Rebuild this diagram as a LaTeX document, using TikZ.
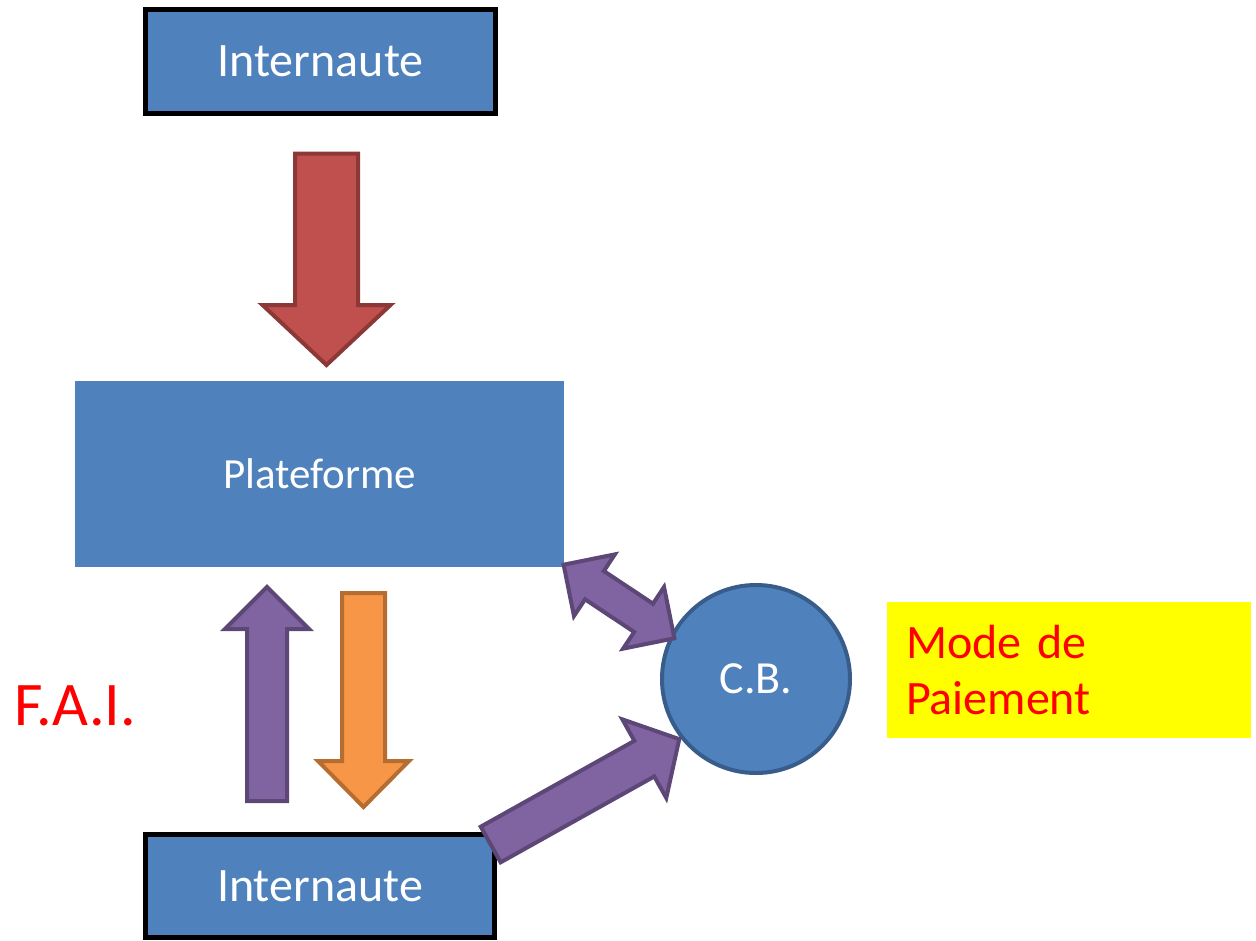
\documentclass[tikz,border=0pt]{standalone}
\usepackage{fontspec}
\setmainfont{Carlito}
\definecolor{cblue}{HTML}{4F81BD}
\definecolor{cbdark}{HTML}{385D8A}
\definecolor{purfill}{HTML}{8064A2}
\definecolor{purline}{HTML}{5C4776}
\definecolor{redfill}{HTML}{C0504D}
\definecolor{redline}{HTML}{8C3836}
\definecolor{orfill}{HTML}{F79646}
\definecolor{orline}{HTML}{B66D31}
\definecolor{yel}{HTML}{FFFF00}
\definecolor{txtred}{HTML}{FF0000}
\newcommand\blkarrow[7]{%
  \begin{scope}[shift={#2}, rotate=#3]
    \draw[#1] (0,-#5) -- ({#4-#7},-#5) -- ({#4-#7},-#6) -- (#4,0) -- ({#4-#7},#6) -- ({#4-#7},#5) -- (0,#5) -- cycle;
  \end{scope}}
\newcommand\dblarrow[7]{%
  \begin{scope}[shift={#2}, rotate=#3]
    \draw[#1] (-#4,0) -- ({-#4+#7},#6) -- ({-#4+#7},#5) -- ({#4-#7},#5) -- ({#4-#7},#6) -- (#4,0)
      -- ({#4-#7},-#6) -- ({#4-#7},-#5) -- ({-#4+#7},-#5) -- ({-#4+#7},-#6) -- cycle;
  \end{scope}}
\begin{document}
\begin{tikzpicture}[x=1pt,y=-1pt,
  userbox/.style={draw=black, line width=5pt, fill=cblue, text=white, inner sep=0pt,
    font=\fontsize{48}{56}\selectfont},
  platbox/.style={fill=cblue, text=white, inner sep=0pt, font=\fontsize{43}{50}\selectfont},
  cbnode/.style={circle, draw=cbdark, line width=4pt, fill=cblue, text=white, inner sep=0pt,
    minimum size=188pt, font=\fontsize{46}{55}\selectfont},
  paybox/.style={fill=yel, text=txtred, inner sep=0pt, align=left,
    font=\fontsize{48}{56}\selectfont},
  redtext/.style={text=txtred, inner sep=0pt, font=\fontsize{62}{72}\selectfont},
  redar/.style={fill=redfill, draw=redline, line width=4pt},
  purar/.style={fill=purfill, draw=purline, line width=4pt},
  orar/.style={fill=orfill, draw=orline, line width=4pt}]
\useasboundingbox (0,0) rectangle (1256,940);
\node[userbox, minimum width=350pt, minimum height=104pt] (int1) at (320.5,61.5) {Internaute};
\node[platbox, minimum width=489pt, minimum height=186pt] (plat) at (319.5,474) {Plateforme};
\node[userbox, minimum width=349pt, minimum height=103pt] (int2) at (320,886) {Internaute};
\node[cbnode] (cb) at (756,679) {C.B.};
\node[paybox, minimum width=364pt, minimum height=136pt, text width=326pt] (pay) at (1069,670) {Mode de\\Paiement};
\node[redtext, anchor=base west] (fai) at (14,725) {F.A.I.};
% block arrows
\blkarrow{redar}{(326.5,153.5)}{-90}{211.5}{31.5}{64}{60}
\blkarrow{purar}{(267,801)}{90}{214}{20}{42}{42}
\blkarrow{orar}{(363.5,593)}{-90}{214}{21.5}{45.5}{46}
\dblarrow{purar}{(619,601.5)}{-33.6}{66.5}{17}{37}{37}
\blkarrow{purar}{(490.7,844.5)}{29.2}{216}{20.4}{45}{40}
\end{tikzpicture}
\end{document}
